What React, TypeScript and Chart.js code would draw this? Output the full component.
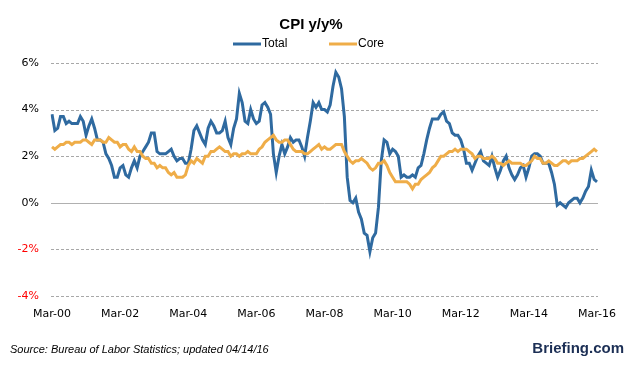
import React, { useEffect, useRef } from "react";
import { Chart, registerables } from "chart.js";

Chart.register(...registerables);

// Monthly CPI y/y %, Mar 2000 .. Mar 2016
const startYear = 2000;
const startMonth = 2; // March (0-based)

const totalCPI: number[] = [
  3.8, 3.1, 3.2, 3.7, 3.7, 3.4, 3.5, 3.4, 3.4, 3.4, // 2000
  3.7, 3.5, 2.9, 3.3, 3.6, 3.2, 2.7, 2.7, 2.6, 2.1, 1.9, 1.6, // 2001
  1.1, 1.1, 1.5, 1.6, 1.2, 1.1, 1.5, 1.8, 1.5, 2.0, 2.2, 2.4, // 2002
  2.6, 3.0, 3.0, 2.2, 2.1, 2.1, 2.1, 2.2, 2.3, 2.0, 1.8, 1.9, // 2003
  1.9, 1.7, 1.7, 2.3, 3.1, 3.3, 3.0, 2.7, 2.5, 3.2, 3.5, 3.3, // 2004
  3.0, 3.0, 3.1, 3.5, 2.8, 2.5, 3.2, 3.6, 4.7, 4.3, 3.5, 3.4, // 2005
  4.0, 3.6, 3.4, 3.5, 4.2, 4.3, 4.1, 3.8, 2.1, 1.3, 2.0, 2.5, // 2006
  2.1, 2.4, 2.8, 2.6, 2.7, 2.7, 2.4, 2.0, 2.8, 3.5, 4.3, 4.1, // 2007
  4.3, 4.0, 4.0, 3.9, 4.2, 5.0, 5.6, 5.4, 4.9, 3.7, 1.1, 0.1, // 2008
  0.0, 0.2, -0.4, -0.7, -1.3, -1.4, -2.1, -1.5, -1.3, -0.2, 1.8, 2.7, // 2009
  2.6, 2.1, 2.3, 2.2, 2.0, 1.1, 1.2, 1.1, 1.1, 1.2, 1.1, 1.5, // 2010
  1.6, 2.1, 2.7, 3.2, 3.6, 3.6, 3.6, 3.8, 3.9, 3.5, 3.4, 3.0, // 2011
  2.9, 2.9, 2.7, 2.3, 1.7, 1.7, 1.4, 1.7, 2.0, 2.2, 1.8, 1.7, // 2012
  1.6, 2.0, 1.5, 1.1, 1.4, 1.8, 2.0, 1.5, 1.2, 1.0, 1.2, 1.5, // 2013
  1.6, 1.1, 1.5, 2.0, 2.1, 2.1, 2.0, 1.7, 1.7, 1.7, 1.3, 0.8, // 2014
  -0.1, 0.0, -0.1, -0.2, 0.0, 0.1, 0.2, 0.2, 0.0, 0.2, 0.5, 0.7, // 2015
  1.4, 1.0, 0.9, // 2016
];

const coreCPI: number[] = [
  2.4, 2.3, 2.4, 2.5, 2.5, 2.6, 2.6, 2.5, 2.6, 2.6, // 2000
  2.6, 2.7, 2.7, 2.6, 2.5, 2.7, 2.7, 2.7, 2.6, 2.6, 2.8, 2.7, // 2001
  2.6, 2.6, 2.4, 2.5, 2.5, 2.3, 2.2, 2.4, 2.2, 2.2, 2.0, 1.9, // 2002
  1.9, 1.7, 1.7, 1.5, 1.6, 1.5, 1.5, 1.3, 1.2, 1.3, 1.1, 1.1, // 2003
  1.1, 1.2, 1.6, 1.8, 1.7, 1.9, 1.8, 1.7, 2.0, 2.0, 2.2, 2.2, // 2004
  2.3, 2.4, 2.3, 2.2, 2.2, 2.0, 2.1, 2.1, 2.0, 2.1, 2.1, 2.2, // 2005
  2.1, 2.1, 2.1, 2.3, 2.4, 2.6, 2.7, 2.8, 2.9, 2.7, 2.6, 2.6, // 2006
  2.7, 2.7, 2.5, 2.3, 2.2, 2.2, 2.2, 2.1, 2.1, 2.2, 2.3, 2.4, // 2007
  2.5, 2.3, 2.4, 2.3, 2.3, 2.4, 2.5, 2.5, 2.5, 2.2, 2.0, 1.8, // 2008
  1.7, 1.8, 1.8, 1.9, 1.8, 1.7, 1.5, 1.4, 1.5, 1.7, 1.7, 1.8, // 2009
  1.6, 1.3, 1.1, 0.9, 0.9, 0.9, 0.9, 0.9, 0.8, 0.6, 0.8, 0.8, // 2010
  1.0, 1.1, 1.2, 1.3, 1.5, 1.6, 1.8, 2.0, 2.0, 2.1, 2.2, 2.2, // 2011
  2.3, 2.2, 2.3, 2.3, 2.3, 2.2, 2.1, 1.9, 2.0, 2.0, 1.9, 1.9, // 2012
  1.9, 2.0, 1.9, 1.7, 1.7, 1.6, 1.7, 1.8, 1.7, 1.7, 1.7, 1.7, // 2013
  1.6, 1.6, 1.7, 1.8, 2.0, 1.9, 1.9, 1.7, 1.7, 1.8, 1.7, 1.6, // 2014
  1.6, 1.7, 1.8, 1.8, 1.7, 1.8, 1.8, 1.8, 1.9, 1.9, 2.0, 2.1, // 2015
  2.2, 2.3, 2.2, // 2016
];

const tickLabels: string[] = [
  "Mar-00", "Mar-02", "Mar-04", "Mar-06", "Mar-08",
  "Mar-10", "Mar-12", "Mar-14", "Mar-16",
];
const tickEvery = 24; // months between labelled ticks

const yTicks: number[] = [-4, -2, 0, 2, 4, 6];

const seriesNames = ["Total", "Core"];
const seriesColors = ["#2f6aa0", "#efad48"];

const titleText = "CPI y/y%";
const sourceText = "Source: Bureau of Labor Statistics; updated 04/14/16";
const brandText = "Briefing.com";

const monthNames = ["Jan", "Feb", "Mar", "Apr", "May", "Jun", "Jul", "Aug", "Sep", "Oct", "Nov", "Dec"];
const categories: string[] = totalCPI.map((_, i) => {
  const m = startMonth + i;
  const y = startYear + Math.floor(m / 12);
  return monthNames[m % 12] + "-" + String(y % 100).padStart(2, "0");
});

export default function App() {
  const ref = useRef<HTMLCanvasElement>(null);

  useEffect(() => {
    if (!ref.current) return;

    const decor = {
      id: "decor",
      beforeDatasetsDraw(chart: any) {
        const ctx = chart.ctx;
        const ys = chart.scales.y;
        const area = chart.chartArea;
        ctx.save();
        yTicks.forEach((v) => {
          const py = Math.round(ys.getPixelForValue(v)) + 0.5;
          ctx.beginPath();
          ctx.lineWidth = 1;
          if (v === 0) {
            ctx.setLineDash([]);
            ctx.strokeStyle = "#b0b0b0";
          } else {
            ctx.setLineDash([3, 2]);
            ctx.strokeStyle = "#a8a8a8";
          }
          ctx.moveTo(area.left - 1, py);
          ctx.lineTo(area.right + 1, py);
          ctx.stroke();
        });
        ctx.restore();
      },
      afterDraw(chart: any) {
        const ctx = chart.ctx;
        ctx.save();
        // title
        ctx.fillStyle = "#000";
        ctx.textAlign = "center";
        ctx.textBaseline = "middle";
        ctx.font = "bold 15px 'Liberation Sans'";
        ctx.fillText(titleText, 311, 25);
        // legend
        const legendItems = [
          { x: 233, name: seriesNames[0], color: seriesColors[0] },
          { x: 329, name: seriesNames[1], color: seriesColors[1] },
        ];
        ctx.font = "12px 'Liberation Sans'";
        ctx.textAlign = "left";
        legendItems.forEach((it) => {
          ctx.strokeStyle = it.color;
          ctx.lineWidth = 3;
          ctx.beginPath();
          ctx.moveTo(it.x, 44);
          ctx.lineTo(it.x + 28, 44);
          ctx.stroke();
          ctx.fillStyle = "#000";
          ctx.fillText(it.name, it.x + 29, 44);
        });
        // source
        ctx.font = "italic 11px 'Liberation Sans'";
        ctx.fillStyle = "#000";
        ctx.fillText(sourceText, 10, 350);
        // brand
        ctx.font = "bold 15px 'Liberation Sans'";
        ctx.textAlign = "right";
        ctx.fillStyle = "#1c2f55";
        ctx.fillText(brandText, 624, 349);
        ctx.restore();
      },
    };

    const chart = new Chart(ref.current, {
      type: "line",
      data: {
        labels: categories,
        datasets: [
          {
            label: seriesNames[1],
            data: coreCPI,
            borderColor: seriesColors[1],
            borderWidth: 3,
            pointRadius: 0,
            tension: 0,
            fill: false,
          },
          {
            label: seriesNames[0],
            data: totalCPI,
            borderColor: seriesColors[0],
            borderWidth: 3,
            pointRadius: 0,
            tension: 0,
            fill: false,
          },
        ],
      },
      options: {
        responsive: false,
        animation: false,
        layout: { padding: { top: 63, right: 29, bottom: 42, left: 0 } },
        plugins: {
          legend: { display: false },
          title: { display: false },
          tooltip: { enabled: false },
        },
        scales: {
          x: {
            type: "category",
            offset: false,
            grid: { display: false, drawTicks: false },
            border: { display: false },
            ticks: {
              autoSkip: false,
              maxRotation: 0,
              minRotation: 0,
              padding: 12,
              color: "#000",
              font: { family: "'DejaVu Sans'", size: 11 },
              callback: (_v: any, i: number) =>
                i % tickEvery === 0 ? tickLabels[i / tickEvery] : null,
            },
            afterFit: (s: any) => {
              s.height = 31;
            },
          },
          y: {
            min: yTicks[0],
            max: yTicks[yTicks.length - 1],
            grid: { display: false, drawTicks: false },
            border: { display: false },
            afterBuildTicks: (s: any) => {
              s.ticks = yTicks.map((v) => ({ value: v }));
            },
            ticks: {
              padding: 13,
              font: { family: "'DejaVu Sans'", size: 11 },
              color: (c: any) => (c.tick && c.tick.value < 0 ? "#ff0000" : "#000"),
              callback: (v: any) => v + "%",
            },
            afterFit: (s: any) => {
              s.width = 52;
            },
          },
        },
      },
      plugins: [decor],
    });

    return () => chart.destroy();
  }, []);

  return (
    <div style={{ position: "absolute", left: 0, top: 0, width: 628, height: 369, background: "#fff" }}>
      <canvas ref={ref} width={628} height={369} />
    </div>
  );
}
